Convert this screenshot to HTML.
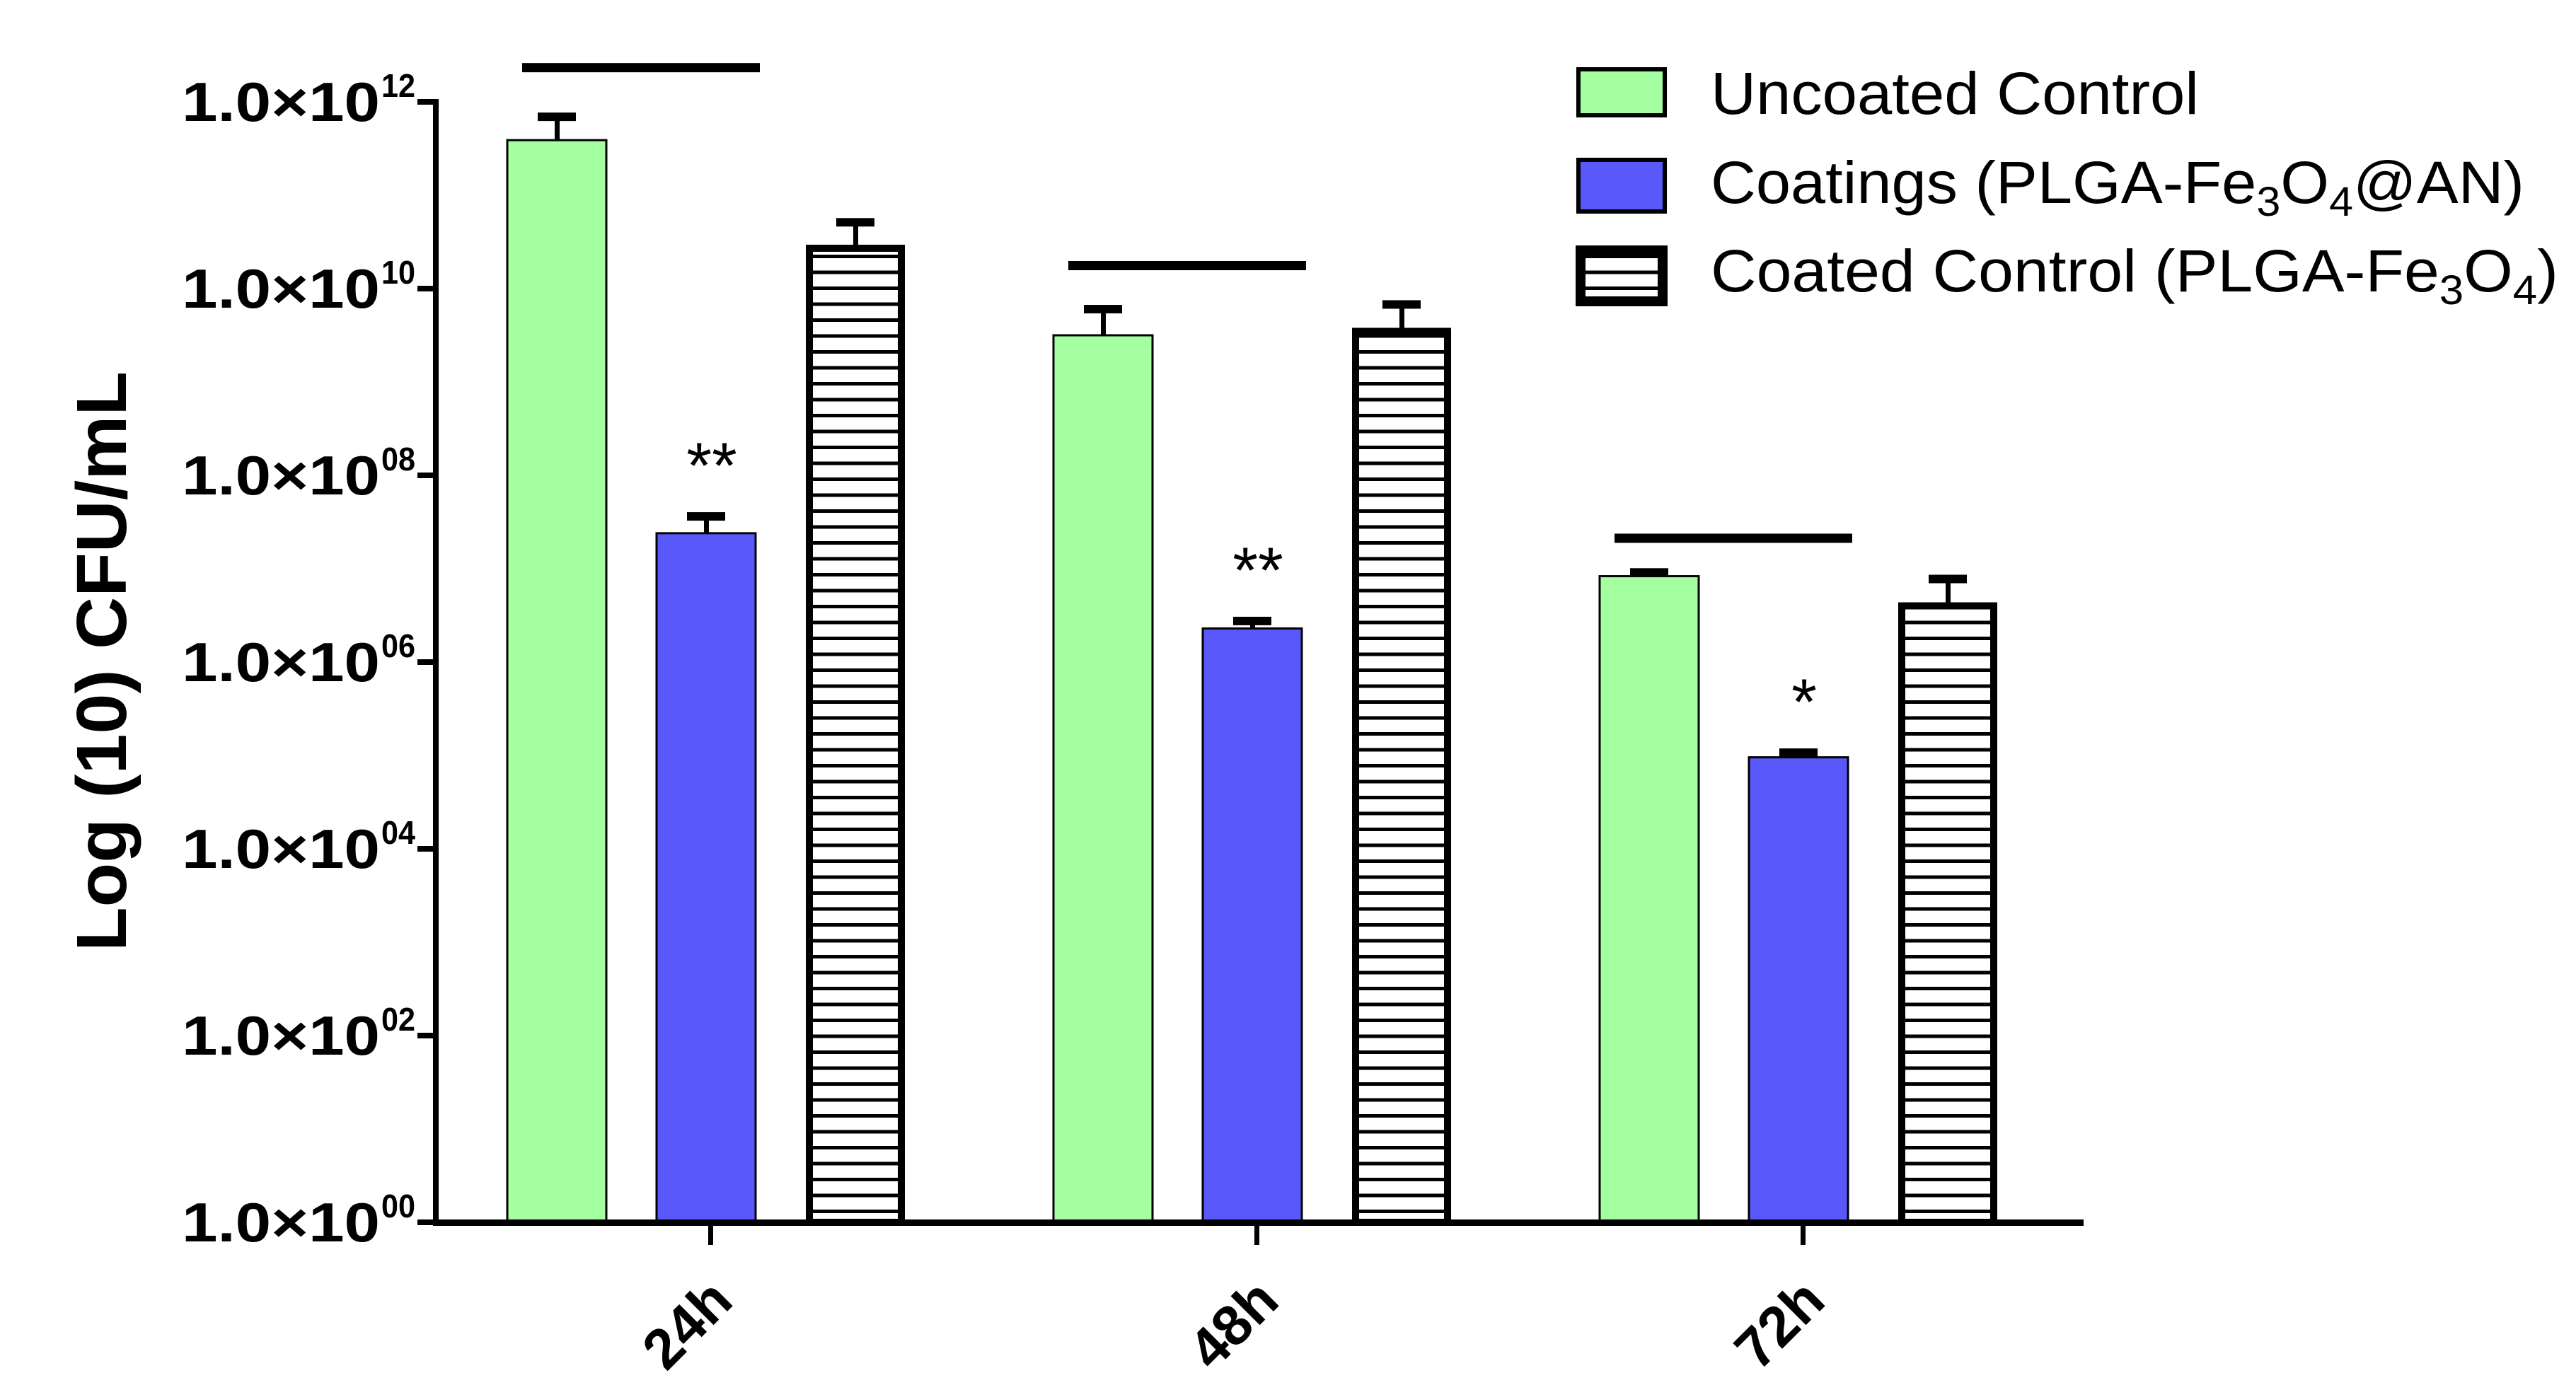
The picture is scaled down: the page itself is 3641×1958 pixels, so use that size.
<!DOCTYPE html>
<html><head><meta charset="utf-8"><style>
html,body{margin:0;padding:0;background:#fff;}
svg{display:block;}
text{font-family:"Liberation Sans",Arial,sans-serif;}
</style></head><body>
<svg id="chart" width="3641" height="1958" viewBox="0 0 3641 1958" xmlns="http://www.w3.org/2000/svg">
<defs>
<pattern id="hatch" patternUnits="userSpaceOnUse" width="20" height="22.5">
<rect width="20" height="22.5" fill="#fff"/><rect y="0" width="20" height="5" fill="#000"/>
</pattern>
</defs>
<g id="plot"></g>
<text transform="translate(178,935) rotate(-90)" text-anchor="middle" font-size="100" font-weight="bold" textLength="820" lengthAdjust="spacingAndGlyphs">Log (10) CFU/mL</text>
<g>
<rect x="2231" y="98" width="122" height="65" fill="#a3ff9f" stroke="#000" stroke-width="6"/>
<text x="2418" y="161" font-size="84" textLength="690" lengthAdjust="spacingAndGlyphs">Uncoated Control</text>
<rect x="2231" y="226" width="122" height="73" fill="#5858fb" stroke="#000" stroke-width="6"/>
<text x="2418" y="287" font-size="84" textLength="1150" lengthAdjust="spacingAndGlyphs">Coatings (PLGA-Fe<tspan font-size="58" dy="18">3</tspan><tspan dy="-18">O</tspan><tspan font-size="58" dy="18">4</tspan><tspan dy="-18">@AN)</tspan></text>
<rect x="2234" y="354" width="116" height="72" fill="url(#hatch)" stroke="#000" stroke-width="14"/>
<text x="2418" y="412" font-size="84" textLength="1198" lengthAdjust="spacingAndGlyphs">Coated Control (PLGA-Fe<tspan font-size="58" dy="18">3</tspan><tspan dy="-18">O</tspan><tspan font-size="58" dy="18">4</tspan><tspan dy="-18">)</tspan></text>
</g>
</svg>
<script>
const categories = ["24h", "48h", "72h"];
const seriesNames = ["Uncoated Control", "Coatings (PLGA-Fe3O4@AN)", "Coated Control (PLGA-Fe3O4)"];
// log10 CFU/mL means
const uncoated = [11.59, 9.50, 6.92];
const coatings = [7.38, 6.36, 4.98];
const coatedControl = [10.47, 9.58, 6.64];
// log10 upper error bar
const uncoatedErr = [11.84, 9.78, 6.96];
const coatingsErr = [7.56, 6.44, 5.03];
const coatedControlErr = [10.71, 9.83, 6.89];
const stars = ["**", "**", "*"];
const sigBarLevel = [12.37, 10.25, 7.33];
const yTicks = [0, 2, 4, 6, 8, 10, 12];
const yTickLabels = ["00", "02", "04", "06", "08", "10", "12"];

const NS = "http://www.w3.org/2000/svg";
const plot = document.getElementById("plot");
const Y0 = 1728, DEC = 132.0;
function yScale(v){ return Y0 - v*DEC; }
const X0 = 1004, GAP = 772;
function xScale(i){ return X0 + i*GAP; }
const offsets = [-217, -6, 205];
const BW = 140;
function mk(tag, attrs){ const e = document.createElementNS(NS, tag); for (const k in attrs) e.setAttribute(k, attrs[k]); plot.appendChild(e); return e; }

const series = [uncoated, coatings, coatedControl];
const errs = [uncoatedErr, coatingsErr, coatedControlErr];
const fills = ["#a3ff9f", "#5858fb", "url(#hatch)"];
const keys = ["uncoated", "coatings", "coated-control"];

categories.forEach((c, i) => {
  series.forEach((s, j) => {
    const cx = xScale(i) + offsets[j];
    const top = yScale(s[i]);
    const et = yScale(errs[j][i]);
    const st = mk("rect", {x: cx-3, y: et, width: 7, height: top-et+10, fill: "#000"});
    
    
    const cap = mk("rect", {x: cx-27, y: et-6, width: 54, height: 12, fill: "#000"});
    
    
    let r;
    if (j === 2) {
      r = mk("rect", {x: cx-BW/2+5, y: top+5, width: BW-10, height: Y0-top-5, fill: fills[j], stroke: "#000", "stroke-width": 10});
    } else {
      r = mk("rect", {x: cx-BW/2, y: top, width: BW, height: Y0-top, fill: fills[j], stroke: "#000", "stroke-width": 3});
    }
    
    
  });
  const sb = mk("rect", {x: xScale(i)-266, y: yScale(sigBarLevel[i])-6, width: 336, height: 13, fill: "#000"});
  
  
  const t = mk("text", {x: xScale(i)+2, y: yScale(coatingsErr[i]) - 40, "text-anchor": "middle", "font-size": "92"});
  t.textContent = stars[i];
  
  
  const tk = mk("rect", {x: xScale(i)-3, y: Y0, width: 7, height: 32, fill: "#000"});
  
  
  const lx = xScale(i) - 33, ly = 1872;
  const lb = mk("text", {x: lx, y: ly, "text-anchor": "middle", "dominant-baseline": "central", "font-size": "80", "font-weight": "bold", transform: `rotate(-45 ${lx} ${ly})`});
  lb.textContent = c;
  
  
});

yTicks.forEach((v, k) => {
  const y = yScale(v);
  const tk = mk("rect", {x: 590, y: y-4, width: 30, height: 8, fill: "#000"});
  
  
  const t = mk("text", {x: 257, y: y+27, "font-size": "78", "font-weight": "bold"});
  t.innerHTML = '<tspan textLength="280" lengthAdjust="spacingAndGlyphs">1.0×10</tspan><tspan dx="2" dy="-34" font-size="46" textLength="48" lengthAdjust="spacingAndGlyphs">' + yTickLabels[k] + '</tspan>';
  
  
});

const ya = mk("rect", {x: 612, y: yScale(12)-4, width: 8, height: Y0-yScale(12)+8, fill: "#000"});


const xa = mk("rect", {x: 612, y: Y0-4, width: 2333, height: 9, fill: "#000"});


</script>
</body></html>
